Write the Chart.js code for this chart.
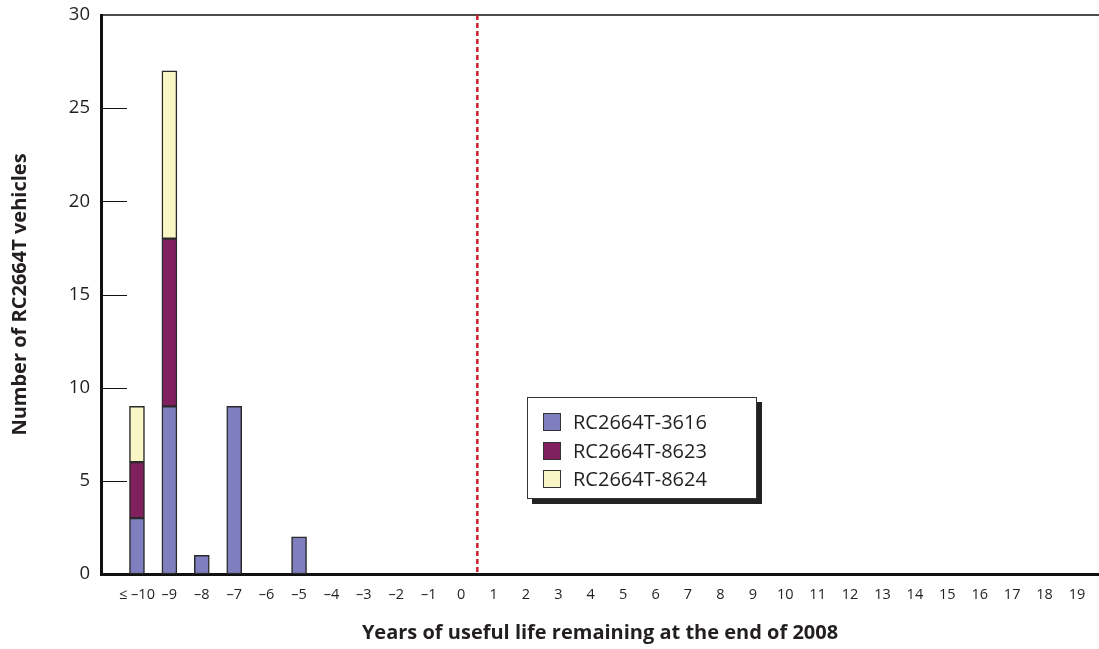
<!DOCTYPE html>
<html>
<head>
<meta charset="utf-8">
<script src="https://cdn.jsdelivr.net/npm/chart.js@4.4.1/dist/chart.umd.min.js"></script>
<style>
  html, body { margin: 0; padding: 0; background: #fff; }
  #wrap { position: relative; width: 1099px; height: 649px; }
  #legend {
    position: absolute; left: 527px; top: 397px; width: 230px; height: 102px;
    border: 1px solid #333; background: #fff; box-shadow: 5px 5px 0 #222;
    box-sizing: border-box; padding: 10px 0 0 15px;
    font-family: 'Open Sans', sans-serif; font-size: 20px; color: #231f20;
  }
  #legend div { height: 28.5px; line-height: 28px; display: flex; align-items: center; }
  #legend span.sw { width: 18px; height: 18px; border: 1px solid #333; box-sizing: border-box; margin-right: 12px; }
</style>
</head>
<body>
<div id="wrap">
  <canvas id="chart" width="1099" height="649"></canvas>
  <div id="legend"></div>
</div>
<script>
const categories = ['\u2264 \u201310', '\u20139', '\u20138', '\u20137', '\u20136', '\u20135', '\u20134', '\u20133', '\u20132', '\u20131', '0',
  '1', '2', '3', '4', '5', '6', '7', '8', '9', '10', '11', '12', '13', '14', '15', '16', '17', '18', '19'];
const seriesNames = ['RC2664T-3616', 'RC2664T-8623', 'RC2664T-8624'];
const values3616 = [3, 9, 1, 9, 0, 2, 0, 0, 0, 0, 0, 0, 0, 0, 0, 0, 0, 0, 0, 0, 0, 0, 0, 0, 0, 0, 0, 0, 0, 0];
const values8623 = [3, 9, 0, 0, 0, 0, 0, 0, 0, 0, 0, 0, 0, 0, 0, 0, 0, 0, 0, 0, 0, 0, 0, 0, 0, 0, 0, 0, 0, 0];
const values8624 = [3, 9, 0, 0, 0, 0, 0, 0, 0, 0, 0, 0, 0, 0, 0, 0, 0, 0, 0, 0, 0, 0, 0, 0, 0, 0, 0, 0, 0, 0];
const yTicks = [0, 5, 10, 15, 20, 25, 30];
const colors = ['#7f7fbf', '#80205f', '#f8f6c4'];
const cutoff = 10.5; // between 0 and 1

const font = "'Open Sans', sans-serif";
const ink = '#231f20';

function toPoints(arr) {
    return arr.map((v, i) => ({ x: i, y: v }));
}

// inner y tick marks, top line and the red dashed cutoff
const extras = {
    id: 'extras',
    afterDatasetsDraw(chart) {
        const ctx = chart.ctx;
        const area = chart.chartArea;
        const y = chart.scales.y;
        const x = chart.scales.x;
        ctx.save();
        ctx.strokeStyle = '#111';
        ctx.lineWidth = 1;
        yTicks.forEach(t => {
            if (t === 0 || t === 30) return;
            const py = Math.round(y.getPixelForValue(t)) + 0.5;
            ctx.beginPath();
            ctx.moveTo(area.left, py);
            ctx.lineTo(area.left + 26, py);
            ctx.stroke();
        });
        ctx.lineWidth = 1.5;
        const top = y.getPixelForValue(30);
        ctx.beginPath();
        ctx.moveTo(area.left, top);
        ctx.lineTo(area.right, top);
        ctx.stroke();

        const cx = x.getPixelForValue(cutoff);
        ctx.strokeStyle = '#d0202f';
        ctx.lineWidth = 2.5;
        ctx.setLineDash([5, 3]);
        ctx.beginPath();
        ctx.moveTo(cx, top);
        ctx.lineTo(cx, area.bottom);
        ctx.stroke();
        ctx.restore();
    }
};

const chart = new Chart(document.getElementById('chart'), {
    type: 'bar',
    data: {
        datasets: [
            { label: seriesNames[0], data: toPoints(values3616), backgroundColor: colors[0] },
            { label: seriesNames[1], data: toPoints(values8623), backgroundColor: colors[1] },
            { label: seriesNames[2], data: toPoints(values8624), backgroundColor: colors[2] }
        ].map(d => Object.assign(d, { borderColor: '#2a2a2a', borderWidth: 1.5, barThickness: 15, borderSkipped: false }))
    },
    options: {
        responsive: false,
        animation: false,
        layout: { padding: { top: 15, right: 0, bottom: 0, left: 0 } },
        plugins: { legend: { display: false }, tooltip: { enabled: false } },
        scales: {
            x: {
                type: 'linear',
                stacked: true,
                offset: false,
                min: -1.11,
                max: 29.68,
                afterBuildTicks: s => { s.ticks = categories.map((c, i) => ({ value: i })); },
                afterFit: s => { s.height = 75; s.paddingLeft = 0; s.paddingRight = 0; },
                grid: { display: false, drawTicks: false, offset: false },
                border: { display: true, color: '#111', width: 3 },
                ticks: {
                    callback: v => categories[v] ?? '',
                    font: { family: font, size: 14.5 },
                    color: ink,
                    padding: 12,
                    maxRotation: 0,
                    autoSkip: false
                },
                title: {
                    display: true,
                    text: 'Years of useful life remaining at the end of 2008',
                    font: { family: font, size: 20, weight: 'bold' },
                    color: ink,
                    padding: { top: 0, bottom: 4 }
                }
            },
            y: {
                stacked: true,
                min: 0,
                max: 30,
                afterBuildTicks: s => { s.ticks = yTicks.map(v => ({ value: v })); },
                afterFit: s => { s.width = 101; s.paddingTop = 0; s.paddingBottom = 0; },
                grid: { display: false, drawTicks: false },
                border: { display: true, color: '#111', width: 3 },
                ticks: {
                    font: { family: font, size: 18.5 },
                    color: ink,
                    padding: 11
                },
                title: {
                    display: true,
                    text: 'Number of RC2664T vehicles',
                    font: { family: font, size: 20, weight: 'bold' },
                    color: ink,
                    padding: { top: 8, bottom: 0 }
                }
            }
        }
    },
    plugins: [extras]
});

// legend box drawn from the datasets
const legend = document.getElementById('legend');
chart.data.datasets.forEach(ds => {
    const row = document.createElement('div');
    row.innerHTML = '<span class="sw" style="background:' + ds.backgroundColor + '"></span>' + ds.label;
    legend.appendChild(row);
});
</script>
</body>
</html>
